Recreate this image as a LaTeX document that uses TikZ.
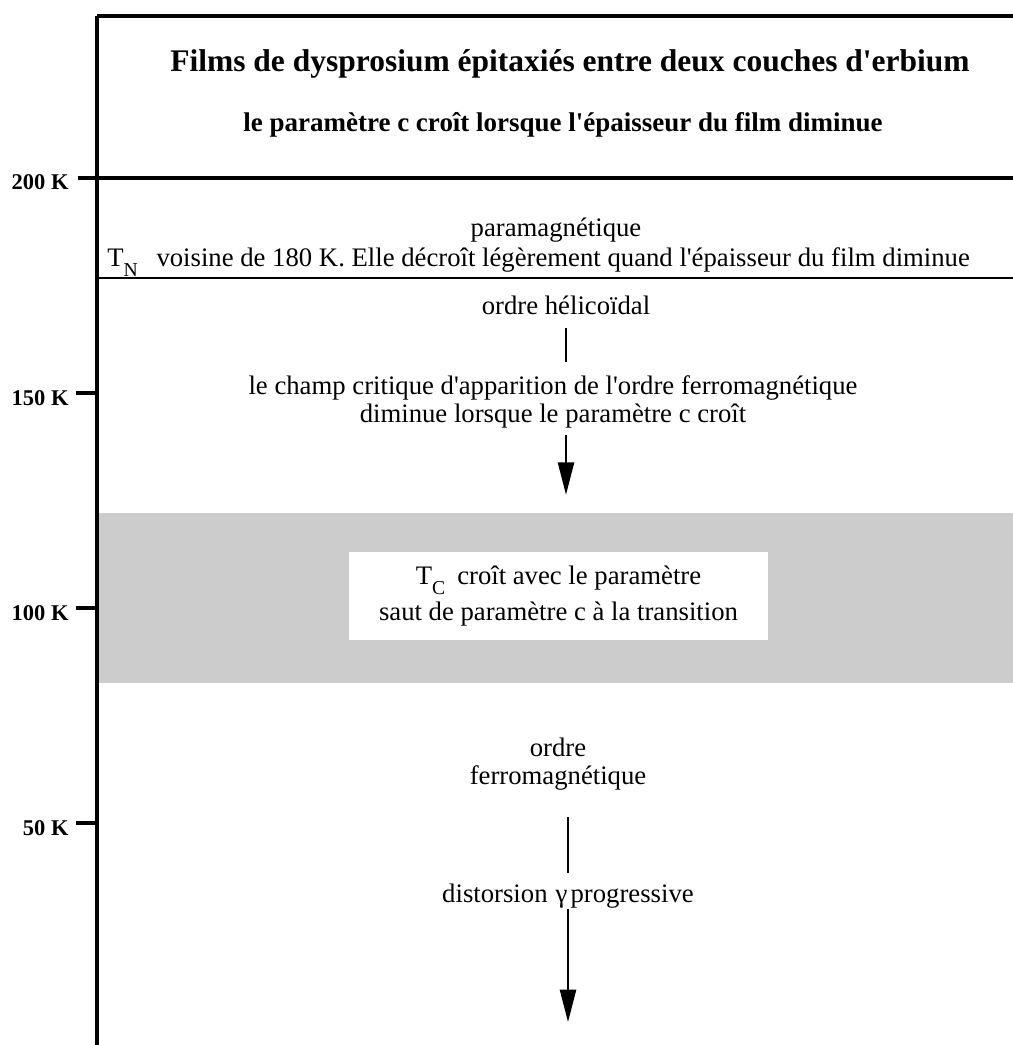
\documentclass[tikz,border=0pt]{standalone}
\usepackage{fontspec}
\setmainfont{Liberation Serif}[Ligatures=TeXOff]
\usepackage{tikz}
\usetikzlibrary{arrows.meta, calc}
\tikzset{
	titletext/.style={font=\fontsize{22.4}{26}\selectfont\bfseries, inner sep=0pt}
}
\tikzset{
	boldtext/.style={font=\fontsize{19.2}{23}\selectfont\bfseries, inner sep=0pt}
}
\tikzset{
	bodytext/.style={font=\fontsize{19}{20}\selectfont, inner sep=0pt}
}
\tikzset{
	ticktext/.style={font=\fontsize{16}{18}\selectfont\bfseries, inner sep=0pt}
}
\tikzset{
	flowline/.style={line width=1.4pt},
	flowarrow/.style={line width=1.4pt, -{Triangle[length=23pt,width=11.5pt]}}
}
\newcommand{\tsub}[1]{\raisebox{-0.37em}{\fontsize{14}{14}\selectfont #1}}

\begin{document}
\begin{tikzpicture}
      \useasboundingbox (0,0) rectangle (25.325,26.125);
      % grey band round the ferromagnetic transition
      \node[fill=black!20, minimum width=22.845cm, minimum height=4.25cm, inner sep=0pt] (band) at (13.9025,11.175) {};
      % temperature axis and the frame lines
      \draw[line width=2.8pt] (2.42,0) -- (2.42,25.725);
      \draw[line width=2.2pt] (2.42,25.725) -- (25.325,25.725);
      \draw[line width=2.8pt] (1.95,21.675) -- (25.325,21.675);
      \draw[line width=1.4pt] (2.42,19.175) -- (25.325,19.175);
      \node[ticktext, anchor=base east] (t200) at (1.72,21.375) {200 K};
      \foreach \t in {150,100,50} {
        \draw[line width=2.8pt] (1.9,{0.175+0.1075*\t}) -- (2.42,{0.175+0.1075*\t});
        \node[ticktext, anchor=base east] (t\t) at (1.72,{0.175+0.1075*\t-0.3}) {\t{} K};
      }
      % titles
      \node[titletext, anchor=base] (title) at (14.25,24.325) {Films de dysprosium épitaxiés entre deux couches d'erbium};
      \node[boldtext, anchor=base] (growth) at (14.075,22.825) {le paramètre c croît lorsque l'épaisseur du film diminue};
      % paramagnetic and helical phases
      \node[bodytext, anchor=base] (para) at (13.9,20.2) {paramagnétique};
      \node[bodytext, anchor=base west] (neel) at (2.675,19.45) {T\tsub{N}\hspace{0.7em}voisine de 180 K. Elle décroît légèrement quand l'épaisseur du film diminue};
      \node[bodytext, anchor=base] (helix) at (14.15,18.25) {ordre hélicoïdal};
      \node[bodytext, anchor=base, align=center] (field) at (13.825,15.55) {le champ critique d'apparition de l'ordre ferromagnétique\\diminue lorsque le paramètre c croît};
      % transition box
      \node[bodytext, font=\fontsize{19}{25}\selectfont, fill=white, minimum width=10.475cm, minimum height=2.2cm, align=center] (curie) at (13.9625,11.225) {T\tsub{C}\hspace{0.45em}croît avec le paramètre\\saut de paramètre c à la transition};
      % ferromagnetic phase
      \node[bodytext, anchor=base, align=center] (ferro) at (13.95,6.5) {ordre\\ferromagnétique};
      \node[bodytext, anchor=base] (gamma) at (14.2,3.55) {distorsion\hspace{0.3em}γ\hspace{0.12em}progressive};
      \coordinate (low) at (14.2,0.575);
      % connectors
      \draw[flowline, shorten <=0.3cm, shorten >=0.35cm] (helix.south) -- (helix.south |- field.north);
      \draw[flowarrow, shorten <=0.15cm, shorten >=0.45cm] (helix.south |- field.south) -- (helix.south |- band.north);
      \draw[flowline, shorten <=0.65cm, shorten >=0.29cm] (ferro.south -| gamma.north) -- (gamma.north);
      \draw[flowarrow] (gamma.south) -- (low);
    \end{tikzpicture}
\end{document}
